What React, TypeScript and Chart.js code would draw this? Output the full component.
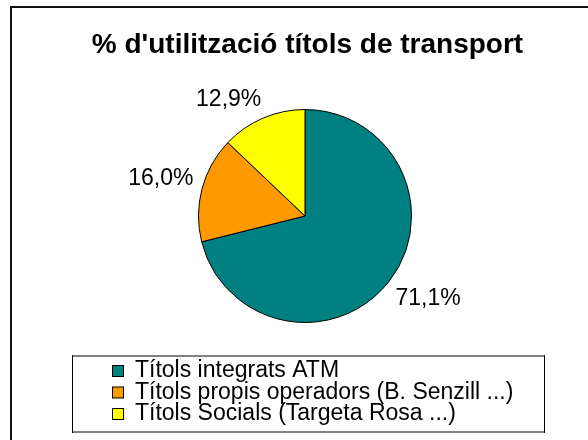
import React, { useEffect, useRef } from "react";
import { Chart, registerables } from "chart.js";

Chart.register(...registerables);

const TITLE = "% d'utilització títols de transport";
const CATEGORIES = [
  "Títols integrats ATM",
  "Títols propis operadors (B. Senzill ...)",
  "Títols Socials (Targeta Rosa ...)",
];
const VALUES = [71.1, 16.0, 12.9];
const COLORS = ["#008080", "#FF9900", "#FFFF00"];

const FONT = "'Liberation Sans', Arial, sans-serif";

const decorPlugin = {
  id: "decor",
  afterDraw(chart: any) {
    const ctx = chart.ctx;
    ctx.save();
    // outer frame (left/top visible)
    ctx.fillStyle = "#111";
    ctx.fillRect(10, 6, 2, 440);
    ctx.fillRect(10, 6, 590, 2);

    // title
    ctx.fillStyle = "#000";
    ctx.font = `bold 28px ${FONT}`;
    ctx.textAlign = "center";
    ctx.textBaseline = "alphabetic";
    ctx.fillText(TITLE, 307.5, 53);

    // percent labels
    const meta = chart.getDatasetMeta(0);
    const data = chart.data.datasets[0].data as number[];
    const total = data.reduce((a, b) => a + b, 0);
    ctx.font = `23px ${FONT}`;
    meta.data.forEach((arc: any, i: number) => {
      const p = arc.getProps(["x", "y", "startAngle", "endAngle", "outerRadius"], true);
      const mid = (p.startAngle + p.endAngle) / 2;
      const r = p.outerRadius + 12;
      const ax = p.x + Math.cos(mid) * r;
      const ay = p.y + Math.sin(mid) * r;
      const dx = Math.cos(mid);
      const dy = Math.sin(mid);
      const txt = ((data[i] / total) * 100).toFixed(1).replace(".", ",") + "%";
      ctx.textAlign = dx >= 0 ? "left" : "right";
      ctx.textBaseline = "alphabetic";
      const by = dy >= 0 ? ay + 16 : ay - 1;
      ctx.fillText(txt, ax + (dx >= 0 ? -3 : 3), by);
    });

    // legend box
    const lx = 72, ly = 355, lw = 472, lh = 77;
    ctx.fillStyle = "#fff";
    ctx.fillRect(lx, ly, lw, lh);
    ctx.fillStyle = "#808080";
    ctx.fillRect(lx, ly, lw, 2);
    ctx.fillRect(lx, ly + lh - 1, lw, 2);
    ctx.fillStyle = "#000";
    ctx.fillRect(lx, ly, 1, lh + 1);
    ctx.fillRect(lx + lw, ly, 1, lh + 1);

    const labels = chart.data.labels as string[];
    const colors = chart.data.datasets[0].backgroundColor as string[];
    ctx.font = `23px ${FONT}`;
    ctx.textAlign = "left";
    labels.forEach((lab, i) => {
      const base = 377 + i * 21.5;
      ctx.fillStyle = colors[i];
      ctx.fillRect(112.5, base - 11.5, 11, 11);
      ctx.strokeStyle = "#000";
      ctx.lineWidth = 1;
      ctx.strokeRect(112.5, base - 11.5, 11, 11);
      ctx.fillStyle = "#000";
      ctx.fillText(lab, 135, base);
    });
    ctx.restore();
  },
};

export default function App() {
  const ref = useRef<HTMLCanvasElement>(null);
  useEffect(() => {
    if (!ref.current) return;
    const chart = new Chart(ref.current, {
      type: "pie",
      data: {
        labels: CATEGORIES,
        datasets: [
          {
            data: VALUES,
            backgroundColor: COLORS,
            borderColor: "#000",
            borderWidth: 1,
          },
        ],
      },
      options: {
        responsive: false,
        animation: false,
        devicePixelRatio: 1,
        layout: { padding: { left: 198, right: 176, top: 109, bottom: 117 } },
        plugins: {
          legend: { display: false },
          title: { display: false },
          tooltip: { enabled: false },
        },
      },
      plugins: [decorPlugin],
    });
    return () => chart.destroy();
  }, []);
  return (
    <div style={{ position: "absolute", left: 0, top: 0, width: 588, height: 440, background: "#fff" }}>
      <canvas ref={ref} width={588} height={440} style={{ display: "block" }} />
    </div>
  );
}
